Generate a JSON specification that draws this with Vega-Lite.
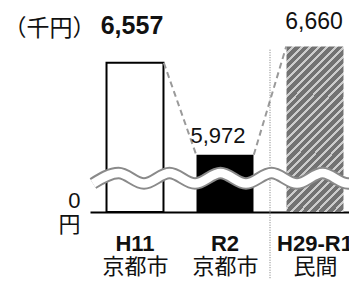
{
  "$schema": "https://vega.github.io/schema/vega-lite/v6.json",
  "width": 259,
  "height": 212,
  "padding": {"left": 90, "top": 0, "right": 0, "bottom": 70},
  "autosize": {"type": "none"},
  "config": {
    "view": {"stroke": null},
    "font": "Liberation Sans, Noto Sans CJK JP",
    "axis": {"labelColor": "#111", "titleColor": "#111", "grid": false}
  },
  "datasets": {
    "bars": [
      {"cat": "H11", "org": "京都市", "val": 6557},
      {"cat": "R2", "org": "京都市", "val": 5972},
      {"cat": "H29-R1", "org": "民間", "val": 6660}
    ],
    "links": [
      {"from": "H11", "to": "R2", "v1": 6557, "v2": 5972},
      {"from": "R2", "to": "H29-R1", "v1": 5972, "v2": 6660}
    ],
    "wave": [
      {"wx": 0.033, "wy": 5789},
      {"wx": 0.317, "wy": 5856},
      {"wx": 0.6, "wy": 5789},
      {"wx": 0.883, "wy": 5856},
      {"wx": 1.167, "wy": 5789},
      {"wx": 1.45, "wy": 5856},
      {"wx": 1.733, "wy": 5789},
      {"wx": 2.017, "wy": 5856},
      {"wx": 2.3, "wy": 5789},
      {"wx": 2.583, "wy": 5856},
      {"wx": 2.867, "wy": 5789},
      {"wx": 3.15, "wy": 5856}
    ],
    "divider": [{"note": "divider"}]
  },
  "resolve": {"scale": {"x": "independent"}},
  "layer": [
    {
      "data": {"name": "bars"},
      "transform": [{"filter": "datum.cat === 'H11'"}],
      "mark": {"type": "bar", "fill": "white", "stroke": "black", "strokeWidth": 2, "width": {"band": 0.633}},
      "encoding": {
        "x": {"field": "cat", "type": "nominal", "sort": null,
          "scale": {"domain": ["H11", "R2", "H29-R1"], "range": [0, 270], "paddingInner": 0, "paddingOuter": 0},
          "axis": {"title": null, "orient": "bottom", "domain": true, "domainColor": "black", "domainWidth": 2, "ticks": false, "labelAngle": 0,
            "labelFontSize": 22, "labelFontWeight": "bold", "labelPadding": 21}},
        "y": {"field": "val", "type": "quantitative",
          "scale": {"domain": [5608, 6956], "nice": false, "zero": false},
          "axis": {"values": [5608], "labelExpr": "['0','円']", "domain": false, "ticks": false,
            "labelFontSize": 22, "labelPadding": 10, "labelLineHeight": 24, "labelOffset": -12,
            "title": "（千円）", "titleAngle": 0, "titleAlign": "left", "titleBaseline": "middle",
            "titleX": -87, "titleY": 28, "titleFontSize": 23, "titleFontWeight": "normal"}},
        "y2": {"datum": 5608}
      }
    },
    {
      "data": {"name": "bars"},
      "transform": [{"filter": "datum.cat === 'R2'"}],
      "mark": {"type": "bar", "fill": "black", "width": {"band": 0.633}},
      "encoding": {
        "x": {"field": "cat", "type": "nominal", "sort": null,
          "scale": {"domain": ["H11", "R2", "H29-R1"], "range": [0, 270], "paddingInner": 0, "paddingOuter": 0},
          "axis": null},
        "y": {"field": "val", "type": "quantitative"},
        "y2": {"datum": 5608}
      }
    },
    {
      "data": {"name": "bars"},
      "transform": [{"filter": "datum.cat === 'H29-R1'"}],
      "mark": {"type": "bar", "width": {"band": 0.633},
        "fill": {"gradient": "linear", "x1": 0, "y1": 0, "x2": 0.418, "y2": 1.2024, "stops": [
          {"offset": 0, "color": "#727272"}, {"offset": 0.025, "color": "#727272"}, {"offset": 0.025, "color": "#cccccc"}, {"offset": 0.0385, "color": "#cccccc"},
          {"offset": 0.0385, "color": "#727272"}, {"offset": 0.0635, "color": "#727272"}, {"offset": 0.0635, "color": "#cccccc"}, {"offset": 0.0769, "color": "#cccccc"},
          {"offset": 0.0769, "color": "#727272"}, {"offset": 0.1019, "color": "#727272"}, {"offset": 0.1019, "color": "#cccccc"}, {"offset": 0.1154, "color": "#cccccc"},
          {"offset": 0.1154, "color": "#727272"}, {"offset": 0.1404, "color": "#727272"}, {"offset": 0.1404, "color": "#cccccc"}, {"offset": 0.1538, "color": "#cccccc"},
          {"offset": 0.1538, "color": "#727272"}, {"offset": 0.1788, "color": "#727272"}, {"offset": 0.1788, "color": "#cccccc"}, {"offset": 0.1923, "color": "#cccccc"},
          {"offset": 0.1923, "color": "#727272"}, {"offset": 0.2173, "color": "#727272"}, {"offset": 0.2173, "color": "#cccccc"}, {"offset": 0.2308, "color": "#cccccc"},
          {"offset": 0.2308, "color": "#727272"}, {"offset": 0.2558, "color": "#727272"}, {"offset": 0.2558, "color": "#cccccc"}, {"offset": 0.2692, "color": "#cccccc"},
          {"offset": 0.2692, "color": "#727272"}, {"offset": 0.2942, "color": "#727272"}, {"offset": 0.2942, "color": "#cccccc"}, {"offset": 0.3077, "color": "#cccccc"},
          {"offset": 0.3077, "color": "#727272"}, {"offset": 0.3327, "color": "#727272"}, {"offset": 0.3327, "color": "#cccccc"}, {"offset": 0.3462, "color": "#cccccc"},
          {"offset": 0.3462, "color": "#727272"}, {"offset": 0.3712, "color": "#727272"}, {"offset": 0.3712, "color": "#cccccc"}, {"offset": 0.3846, "color": "#cccccc"},
          {"offset": 0.3846, "color": "#727272"}, {"offset": 0.4096, "color": "#727272"}, {"offset": 0.4096, "color": "#cccccc"}, {"offset": 0.4231, "color": "#cccccc"},
          {"offset": 0.4231, "color": "#727272"}, {"offset": 0.4481, "color": "#727272"}, {"offset": 0.4481, "color": "#cccccc"}, {"offset": 0.4615, "color": "#cccccc"},
          {"offset": 0.4615, "color": "#727272"}, {"offset": 0.4865, "color": "#727272"}, {"offset": 0.4865, "color": "#cccccc"}, {"offset": 0.5, "color": "#cccccc"},
          {"offset": 0.5, "color": "#727272"}, {"offset": 0.525, "color": "#727272"}, {"offset": 0.525, "color": "#cccccc"}, {"offset": 0.5385, "color": "#cccccc"},
          {"offset": 0.5385, "color": "#727272"}, {"offset": 0.5635, "color": "#727272"}, {"offset": 0.5635, "color": "#cccccc"}, {"offset": 0.5769, "color": "#cccccc"},
          {"offset": 0.5769, "color": "#727272"}, {"offset": 0.6019, "color": "#727272"}, {"offset": 0.6019, "color": "#cccccc"}, {"offset": 0.6154, "color": "#cccccc"},
          {"offset": 0.6154, "color": "#727272"}, {"offset": 0.6404, "color": "#727272"}, {"offset": 0.6404, "color": "#cccccc"}, {"offset": 0.6538, "color": "#cccccc"},
          {"offset": 0.6538, "color": "#727272"}, {"offset": 0.6788, "color": "#727272"}, {"offset": 0.6788, "color": "#cccccc"}, {"offset": 0.6923, "color": "#cccccc"},
          {"offset": 0.6923, "color": "#727272"}, {"offset": 0.7173, "color": "#727272"}, {"offset": 0.7173, "color": "#cccccc"}, {"offset": 0.7308, "color": "#cccccc"},
          {"offset": 0.7308, "color": "#727272"}, {"offset": 0.7558, "color": "#727272"}, {"offset": 0.7558, "color": "#cccccc"}, {"offset": 0.7692, "color": "#cccccc"},
          {"offset": 0.7692, "color": "#727272"}, {"offset": 0.7942, "color": "#727272"}, {"offset": 0.7942, "color": "#cccccc"}, {"offset": 0.8077, "color": "#cccccc"},
          {"offset": 0.8077, "color": "#727272"}, {"offset": 0.8327, "color": "#727272"}, {"offset": 0.8327, "color": "#cccccc"}, {"offset": 0.8462, "color": "#cccccc"},
          {"offset": 0.8462, "color": "#727272"}, {"offset": 0.8712, "color": "#727272"}, {"offset": 0.8712, "color": "#cccccc"}, {"offset": 0.8846, "color": "#cccccc"},
          {"offset": 0.8846, "color": "#727272"}, {"offset": 0.9096, "color": "#727272"}, {"offset": 0.9096, "color": "#cccccc"}, {"offset": 0.9231, "color": "#cccccc"},
          {"offset": 0.9231, "color": "#727272"}, {"offset": 0.9481, "color": "#727272"}, {"offset": 0.9481, "color": "#cccccc"}, {"offset": 0.9615, "color": "#cccccc"},
          {"offset": 0.9615, "color": "#727272"}, {"offset": 0.9865, "color": "#727272"}, {"offset": 0.9865, "color": "#cccccc"}, {"offset": 1, "color": "#cccccc"}
        ]}},
      "encoding": {
        "x": {"field": "cat", "type": "nominal", "sort": null,
          "scale": {"domain": ["H11", "R2", "H29-R1"], "range": [0, 270], "paddingInner": 0, "paddingOuter": 0},
          "axis": null},
        "y": {"field": "val", "type": "quantitative"},
        "y2": {"datum": 5608}
      }
    },
    {
      "data": {"name": "links"},
      "mark": {"type": "rule", "stroke": "#9a9a9a", "strokeWidth": 2, "strokeDash": [6, 4]},
      "encoding": {
        "x": {"field": "from", "type": "nominal", "bandPosition": 0.82,
          "scale": {"domain": ["H11", "R2", "H29-R1"], "range": [0, 270], "paddingInner": 0, "paddingOuter": 0},
          "axis": null},
        "x2": {"field": "to", "bandPosition": 0.18},
        "y": {"field": "v1", "type": "quantitative"},
        "y2": {"field": "v2"}
      }
    },
    {
      "data": {"name": "divider"},
      "mark": {"type": "rule", "stroke": "#777", "strokeWidth": 1, "strokeDash": [1, 1.5]},
      "encoding": {
        "x": {"datum": "H29-R1", "type": "nominal", "bandPosition": 0,
          "scale": {"domain": ["H11", "R2", "H29-R1"], "range": [0, 270], "paddingInner": 0, "paddingOuter": 0},
          "axis": null},
        "y": {"datum": 6640, "type": "quantitative"},
        "y2": {"datum": 5180}
      }
    },
    {
      "data": {"name": "wave"},
      "mark": {"type": "line", "stroke": "#8a8a8a", "strokeWidth": 12.5, "interpolate": "monotone", "strokeCap": "butt"},
      "encoding": {
        "x": {"field": "wx", "type": "quantitative", "scale": {"domain": [0, 3], "range": [0, 270], "nice": false, "zero": false}, "axis": null},
        "y": {"field": "wy", "type": "quantitative"}
      }
    },
    {
      "data": {"name": "wave"},
      "mark": {"type": "line", "stroke": "white", "strokeWidth": 8.5, "interpolate": "monotone", "strokeCap": "butt"},
      "encoding": {
        "x": {"field": "wx", "type": "quantitative", "scale": {"domain": [0, 3], "range": [0, 270], "nice": false, "zero": false}, "axis": null},
        "y": {"field": "wy", "type": "quantitative"}
      }
    },
    {
      "data": {"name": "bars"},
      "transform": [{"filter": "datum.cat === 'H11'"}],
      "mark": {"type": "text", "fontSize": 25, "fontWeight": "bold", "color": "#111", "baseline": "middle", "dx": -3, "dy": -37},
      "encoding": {
        "x": {"field": "cat", "type": "nominal", "sort": null,
          "scale": {"domain": ["H11", "R2", "H29-R1"], "range": [0, 270], "paddingInner": 0, "paddingOuter": 0},
          "axis": {"title": null, "orient": "bottom", "domain": false, "ticks": false, "labelAngle": 0, "labelFontSize": 22,
            "labelFontWeight": "normal", "labelPadding": 44,
            "labelExpr": "datum.value === 'H29-R1' ? '民間' : '京都市'"}},
        "y": {"field": "val", "type": "quantitative"},
        "text": {"field": "val", "type": "quantitative", "format": ","}
      }
    },
    {
      "data": {"name": "bars"},
      "transform": [{"filter": "datum.cat === 'R2'"}],
      "mark": {"type": "text", "fontSize": 22, "color": "#111", "baseline": "middle", "dx": -7, "dy": -19},
      "encoding": {
        "x": {"field": "cat", "type": "nominal", "sort": null,
          "scale": {"domain": ["H11", "R2", "H29-R1"], "range": [0, 270], "paddingInner": 0, "paddingOuter": 0},
          "axis": null},
        "y": {"field": "val", "type": "quantitative"},
        "text": {"field": "val", "type": "quantitative", "format": ","}
      }
    },
    {
      "data": {"name": "bars"},
      "transform": [{"filter": "datum.cat === 'H29-R1'"}],
      "mark": {"type": "text", "fontSize": 23, "color": "#111", "baseline": "middle", "dx": -1, "dy": -25},
      "encoding": {
        "x": {"field": "cat", "type": "nominal", "sort": null,
          "scale": {"domain": ["H11", "R2", "H29-R1"], "range": [0, 270], "paddingInner": 0, "paddingOuter": 0},
          "axis": null},
        "y": {"field": "val", "type": "quantitative"},
        "text": {"field": "val", "type": "quantitative", "format": ","}
      }
    }
  ]
}
